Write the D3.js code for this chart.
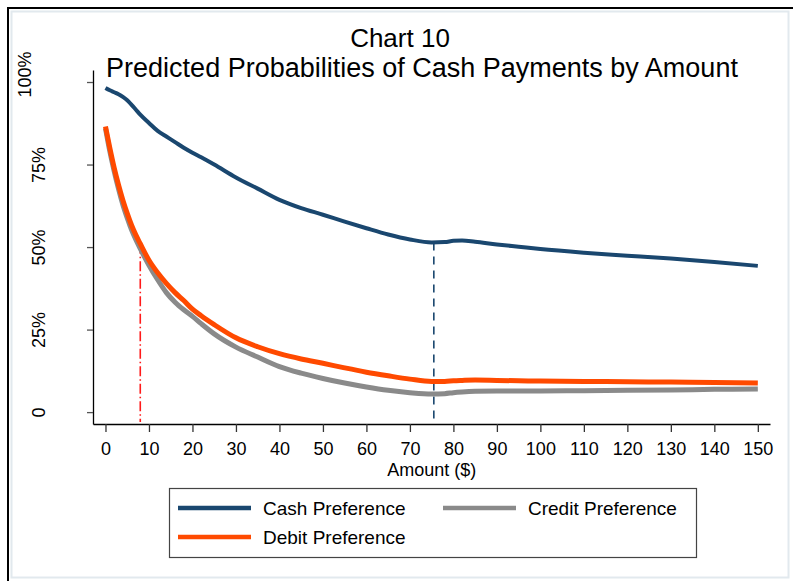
<!DOCTYPE html>
<html>
<head>
<meta charset="utf-8">
<script src="https://cdn.jsdelivr.net/npm/d3@7"></script>
<style>
    body { margin: 0; background: white; }
    text { font-family: "Liberation Sans", Arial, sans-serif; fill: #000; }
</style>
</head>
<body>
<svg id="my-svg"></svg>
<script>
const amounts = [0, 1, 2, 3, 4, 5, 6, 7, 8, 10, 12, 14, 16, 18, 20, 22, 25, 30, 35, 40, 45, 50, 55, 60, 65, 70, 75, 78, 80, 82, 85, 90, 95, 100, 110, 120, 130, 140, 150];
const cashValues = [0.982, 0.975, 0.969, 0.963, 0.955, 0.945, 0.931, 0.916, 0.901, 0.876, 0.852, 0.835, 0.818, 0.801, 0.786, 0.772, 0.750, 0.711, 0.677, 0.643, 0.618, 0.598, 0.577, 0.557, 0.538, 0.523, 0.514, 0.515, 0.519, 0.520, 0.516, 0.508, 0.501, 0.494, 0.483, 0.474, 0.465, 0.455, 0.443];
const debitValues = [0.865, 0.800, 0.740, 0.688, 0.642, 0.602, 0.566, 0.536, 0.510, 0.460, 0.422, 0.390, 0.362, 0.338, 0.312, 0.292, 0.265, 0.225, 0.198, 0.177, 0.161, 0.148, 0.134, 0.121, 0.110, 0.100, 0.093, 0.093, 0.095, 0.096, 0.097, 0.096, 0.095, 0.094, 0.093, 0.092, 0.091, 0.090, 0.088];
const creditValues = [0.860, 0.790, 0.730, 0.676, 0.628, 0.588, 0.552, 0.522, 0.495, 0.445, 0.401, 0.362, 0.333, 0.310, 0.290, 0.268, 0.237, 0.197, 0.167, 0.138, 0.118, 0.102, 0.088, 0.076, 0.066, 0.059, 0.055, 0.056, 0.059, 0.061, 0.063, 0.064, 0.064, 0.064, 0.065, 0.066, 0.067, 0.069, 0.070];

const xTicks = [0, 10, 20, 30, 40, 50, 60, 70, 80, 90, 100, 110, 120, 130, 140, 150];
const yTicks = [0, 0.25, 0.5, 0.75, 1];
const yTickLabels = ["0", "25%", "50%", "75%", "100%"];

// reference lines: red at $8 (debit), blue at $75.5 (cash)
const refAmounts = [8, 75.5];

const seriesNames = ["Cash Preference", "Debit Preference", "Credit Preference"];
const seriesColors = ["#1a476f", "#ff4a00", "#8a8a8a"];

const width = 793;
const height = 581;
const plot = { left: 93, right: 770, top: 70, bottom: 424 };

const svg = d3.select("#my-svg")
    .attr("width", width)
    .attr("height", height)
    .style("display", "block");

// outer frame and light panel
svg.append("rect")
    .attr("x", 11.5).attr("y", 11.5)
    .attr("width", 777).attr("height", 566)
    .attr("fill", "white")
    .attr("stroke", "#e2e9ee")
    .attr("stroke-width", 2);

svg.append("path")
    .attr("d", `M8,${height} V8 H${width}`)
    .attr("fill", "none")
    .attr("stroke", "#000")
    .attr("stroke-width", 2);

svg.append("text")
    .attr("x", 400).attr("y", 47)
    .attr("text-anchor", "middle")
    .attr("font-size", 26)
    .text("Chart 10");

svg.append("text")
    .attr("x", 422).attr("y", 77)
    .attr("text-anchor", "middle")
    .attr("font-size", 27)
    .text("Predicted Probabilities of Cash Payments by Amount");

const x = d3.scaleLinear()
    .domain([-2.87, 152.8])
    .range([plot.left, plot.right]);

const y = d3.scaleLinear()
    .domain([-0.036, 1.0364])
    .range([plot.bottom, plot.top]);

const xAxis = svg.append("g")
    .attr("transform", `translate(0,${plot.bottom})`)
    .call(d3.axisBottom(x)
        .tickValues(xTicks)
        .tickSize(8)
        .tickSizeOuter(0)
        .tickPadding(10))
    .attr("font-size", 18)
    .attr("font-family", "Liberation Sans, Arial, sans-serif");

xAxis.select(".domain").attr("stroke", "#000").attr("stroke-width", 1.3);
xAxis.selectAll(".tick line").attr("stroke", "#333").attr("stroke-width", 1.3);
xAxis.selectAll(".tick text").attr("fill", "#000");

const yAxis = svg.append("g")
    .attr("transform", `translate(${plot.left},0)`)
    .call(d3.axisLeft(y)
        .tickValues(yTicks)
        .tickFormat((d, i) => yTickLabels[i])
        .tickSize(6)
        .tickSizeOuter(0)
        .tickPadding(0))
    .attr("font-size", 18)
    .attr("font-family", "Liberation Sans, Arial, sans-serif");

yAxis.select(".domain").attr("stroke", "#000").attr("stroke-width", 1.3);
yAxis.selectAll(".tick line").attr("stroke", "#555").attr("stroke-width", 1.3);
yAxis.selectAll(".tick text")
    .attr("fill", "#000")
    .attr("text-anchor", "middle")
    .attr("dy", null)
    .attr("x", null)
    .attr("transform", (d, i) => i === yTicks.length - 1
        ? "translate(-62,-8) rotate(-90)"
        : "translate(-48,0) rotate(-90)");

svg.append("text")
    .attr("x", x(75))
    .attr("y", plot.bottom + 52)
    .attr("text-anchor", "middle")
    .attr("font-size", 18)
    .text("Amount ($)");

// vertical reference lines
svg.append("line")
    .attr("x1", x(refAmounts[0])).attr("x2", x(refAmounts[0]))
    .attr("y1", y(debitValues[amounts.indexOf(8)])).attr("y2", plot.bottom - 2)
    .attr("stroke", "#ff1a1a")
    .attr("stroke-width", 1.6)
    .attr("stroke-dasharray", "10,3,1.5,3");

const cashAt = d3.scaleLinear().domain(amounts).range(cashValues);

svg.append("line")
    .attr("x1", x(refAmounts[1])).attr("x2", x(refAmounts[1]))
    .attr("y1", y(cashAt(refAmounts[1]))).attr("y2", plot.bottom - 2)
    .attr("stroke", "#1a476f")
    .attr("stroke-width", 1.6)
    .attr("stroke-dasharray", "8,6");

const line = d3.line()
    .x(d => x(d[0]))
    .y(d => y(d[1]))
    .curve(d3.curveMonotoneX);

const seriesData = [cashValues, debitValues, creditValues];
const drawOrder = [2, 1, 0];
const strokeWidths = [4, 5, 5];

drawOrder.forEach(k => {
    svg.append("path")
        .datum(amounts.map((a, i) => [a, seriesData[k][i]]))
        .attr("fill", "none")
        .attr("stroke", seriesColors[k])
        .attr("stroke-width", strokeWidths[k])
        .attr("stroke-linejoin", "round")
        .attr("d", line);
});

// legend
const legend = svg.append("g");

legend.append("rect")
    .attr("x", 169.5).attr("y", 488.5)
    .attr("width", 527).attr("height", 69)
    .attr("fill", "white")
    .attr("stroke", "#444")
    .attr("stroke-width", 1.2);

const legendItems = [
    { name: seriesNames[0], color: seriesColors[0], lx: 178, ly: 508 },
    { name: seriesNames[2], color: seriesColors[2], lx: 443, ly: 508 },
    { name: seriesNames[1], color: seriesColors[1], lx: 178, ly: 537 }
];

legend.selectAll(".legend-line")
    .data(legendItems)
    .enter().append("line")
    .attr("class", "legend-line")
    .attr("x1", d => d.lx).attr("x2", d => d.lx + 73)
    .attr("y1", d => d.ly).attr("y2", d => d.ly)
    .attr("stroke", d => d.color)
    .attr("stroke-width", 4.5);

legend.selectAll(".legend-text")
    .data(legendItems)
    .enter().append("text")
    .attr("class", "legend-text")
    .attr("x", d => d.lx + 85)
    .attr("y", d => d.ly + 7)
    .attr("font-size", 19)
    .text(d => d.name);
</script>
</body>
</html>
